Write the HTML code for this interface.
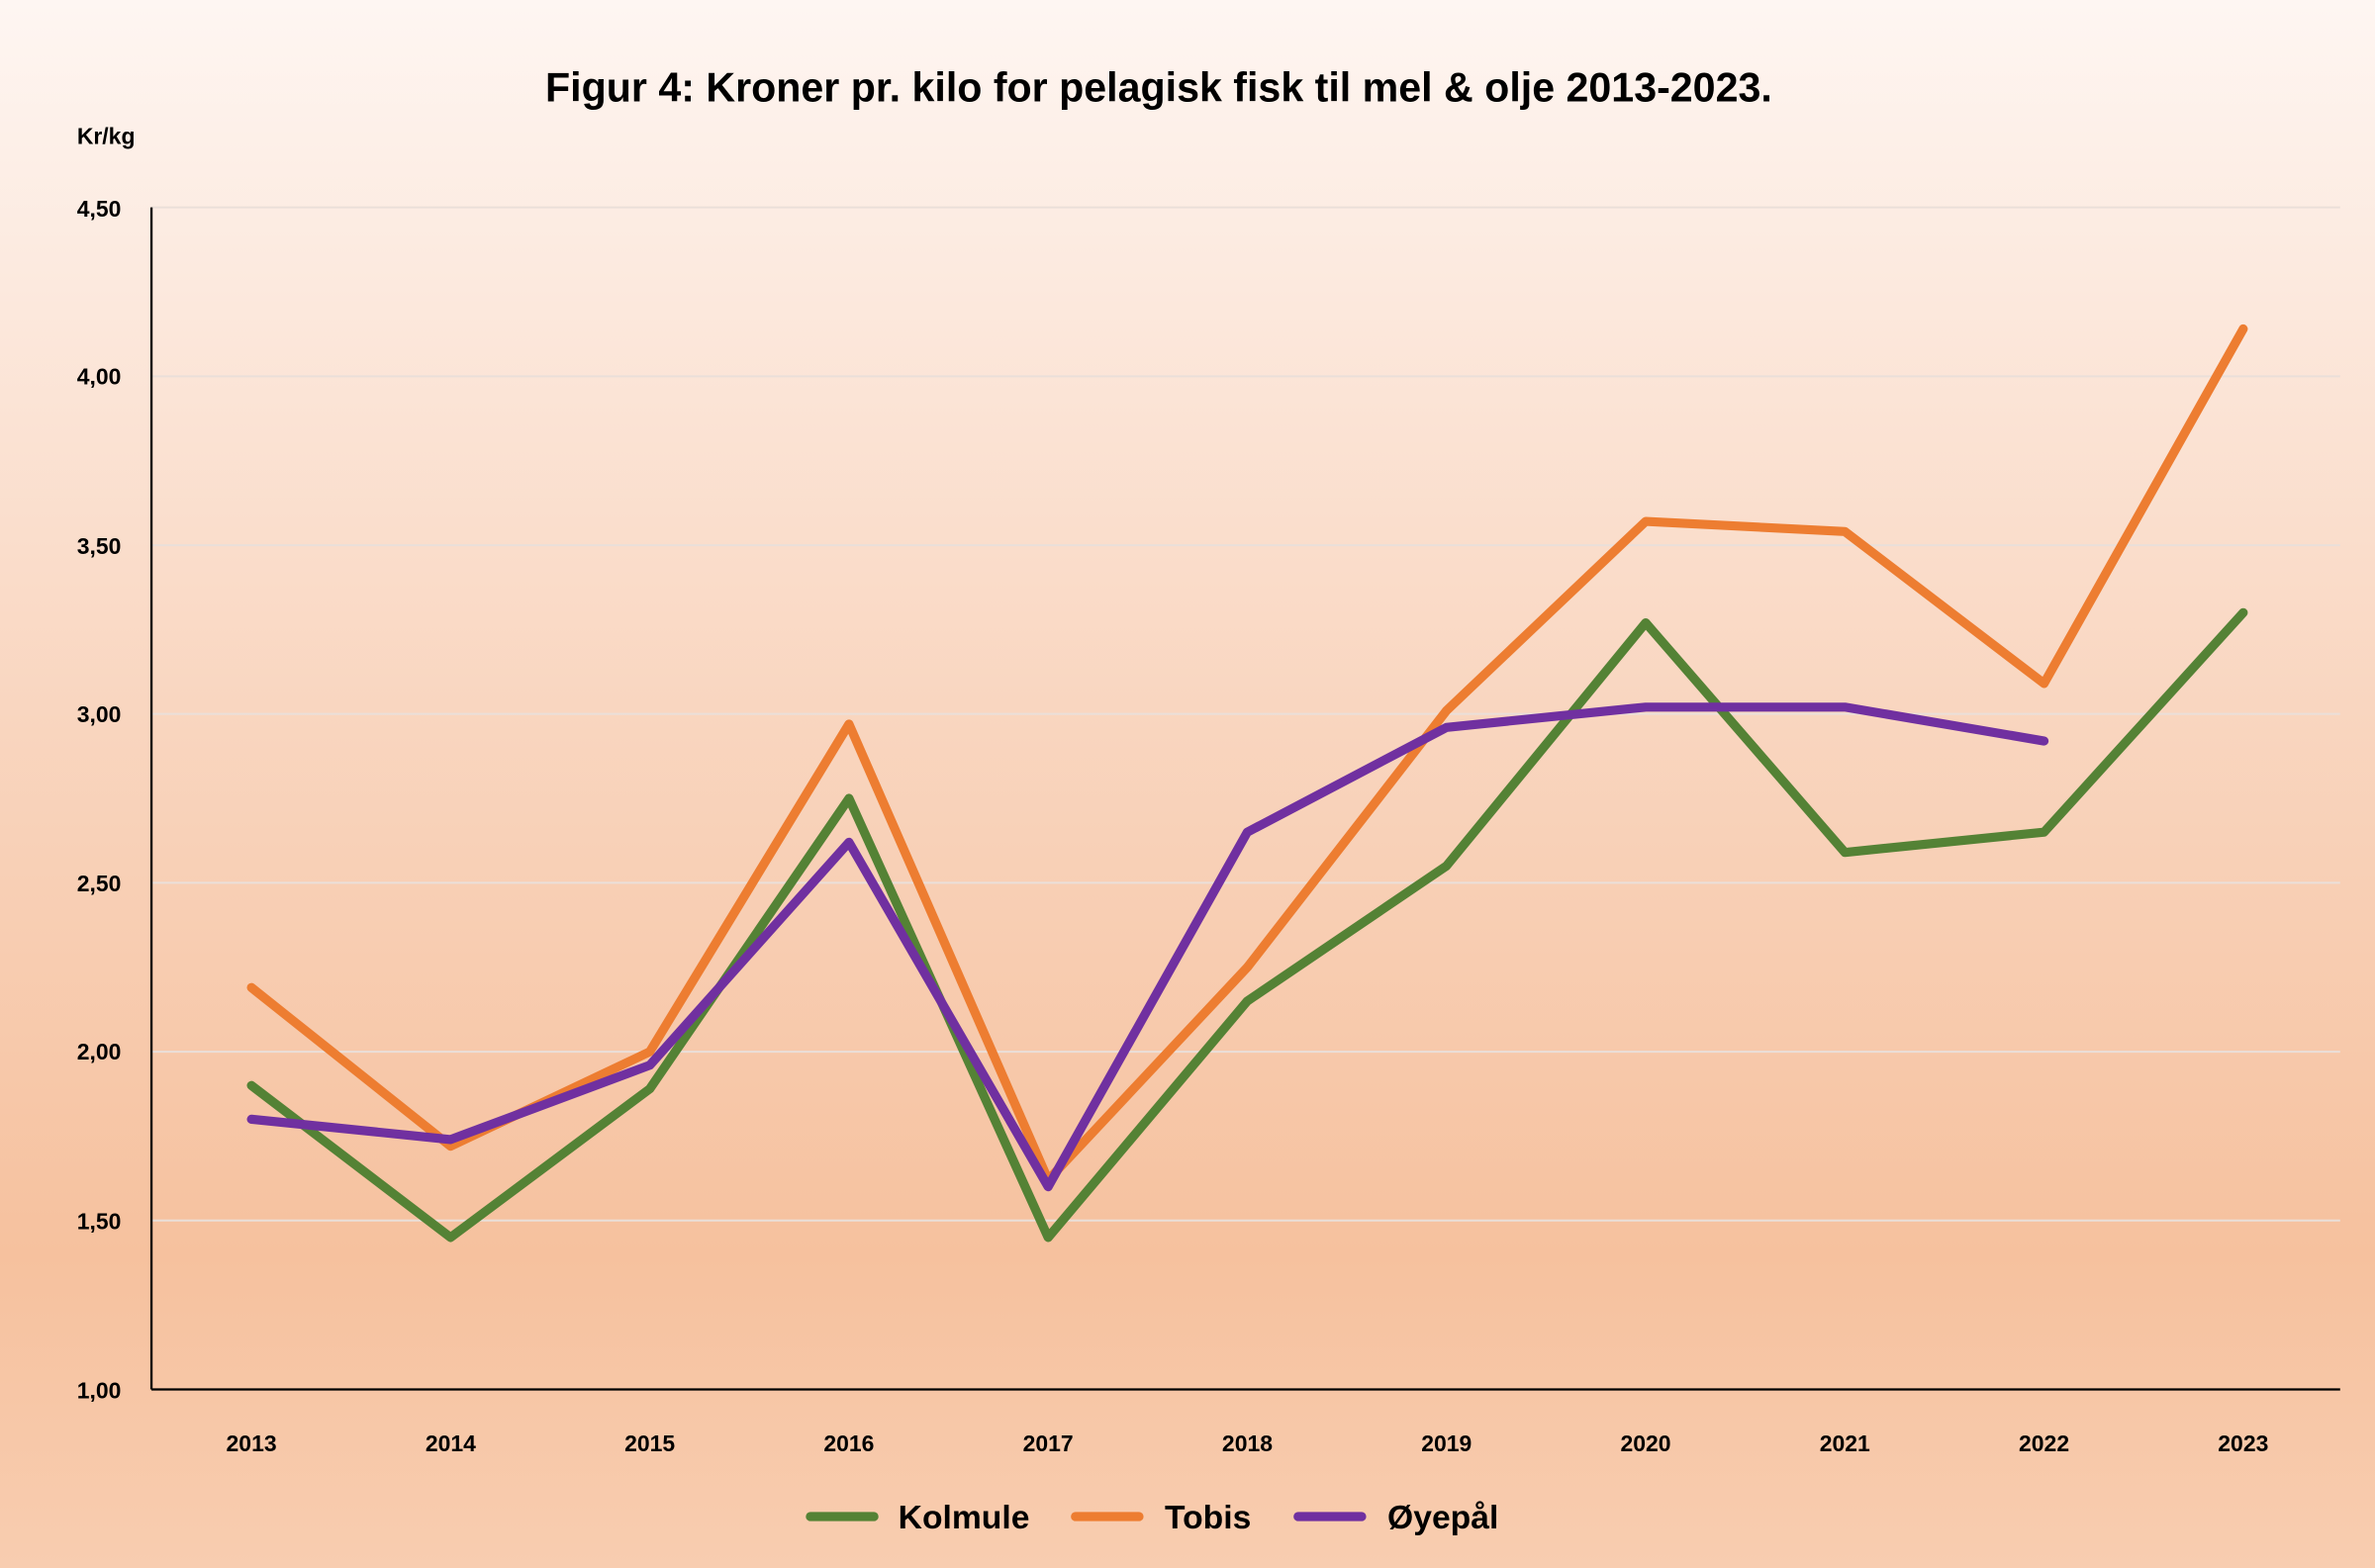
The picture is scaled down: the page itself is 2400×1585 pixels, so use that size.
<!DOCTYPE html>
<html><head><meta charset="utf-8"><style>
html,body{margin:0;padding:0;width:2400px;height:1585px;overflow:hidden}
svg{display:block}
text{font-family:"Liberation Sans",sans-serif;font-weight:bold;fill:#000}
</style></head><body>
<svg width="2400" height="1585" viewBox="0 0 1568 1036" preserveAspectRatio="none">
<defs><linearGradient id="bg" x1="0" y1="0" x2="0" y2="1">
<stop offset="0" stop-color="#fef6f2"/><stop offset="0.45" stop-color="#f9d6c0"/><stop offset="0.8" stop-color="#f6c19e"/><stop offset="1" stop-color="#f8cdb0"/></linearGradient></defs>
<rect width="1568" height="1036" fill="url(#bg)"/>
<text x="765" y="67" font-size="27" text-anchor="middle" textLength="810" lengthAdjust="spacingAndGlyphs">Figur 4: Kroner pr. kilo for pelagisk fisk til mel &amp; olje 2013-2023.</text>
<text x="70" y="95" font-size="15" text-anchor="middle">Kr/kg</text>
<g stroke="#eadfd9" stroke-width="1.3">
<line x1="100" x2="1545" y1="137" y2="137"/><line x1="100" x2="1545" y1="248.6" y2="248.6"/>
<line x1="100" x2="1545" y1="360.2" y2="360.2"/><line x1="100" x2="1545" y1="471.7" y2="471.7"/>
<line x1="100" x2="1545" y1="583.3" y2="583.3"/><line x1="100" x2="1545" y1="694.9" y2="694.9"/>
<line x1="100" x2="1545" y1="806.4" y2="806.4"/></g>
<line x1="100" x2="100" y1="137" y2="918" stroke="#000" stroke-width="1.5"/>
<line x1="100" x2="1545" y1="918" y2="918" stroke="#000" stroke-width="1.5"/>
<g font-size="15" text-anchor="end">
<text x="80" y="143">4,50</text><text x="80" y="254">4,00</text><text x="80" y="366">3,50</text>
<text x="80" y="477">3,00</text><text x="80" y="589">2,50</text><text x="80" y="700">2,00</text>
<text x="80" y="812">1,50</text><text x="80" y="924">1,00</text></g>
<g font-size="15" text-anchor="middle">
<text x="166" y="959">2013</text><text x="297.5" y="959">2014</text><text x="429" y="959">2015</text>
<text x="560.5" y="959">2016</text><text x="692" y="959">2017</text><text x="823.5" y="959">2018</text>
<text x="955" y="959">2019</text><text x="1086.5" y="959">2020</text><text x="1218" y="959">2021</text>
<text x="1349.5" y="959">2022</text><text x="1481" y="959">2023</text></g>
<g fill="none" stroke-width="6" stroke-linejoin="round" stroke-linecap="round">
<polyline stroke="#548235" points="166,717.2 297.5,817.6 429,719.4 560.5,527.5 692,817.6 823.5,661.4 955,572.1 1086.5,411.5 1218,563.2 1349.5,549.8 1481,404.8"/>
<polyline stroke="#ed7d31" points="166,652.5 297.5,757.3 429,694.9 560.5,478.4 692,779.6 823.5,639.1 955,469.5 1086.5,344.5 1218,351.2 1349.5,451.6 1481,217.3"/>
<polyline stroke="#7030a0" points="166,739.5 297.5,752.9 429,703.8 560.5,556.5 692,784.1 823.5,549.8 955,480.6 1086.5,467.2 1218,467.2 1349.5,489.6"/>
</g>
<g stroke-width="6" stroke-linecap="round">
<line x1="535" x2="577" y1="1002" y2="1002" stroke="#548235"/>
<line x1="710" x2="752" y1="1002" y2="1002" stroke="#ed7d31"/>
<line x1="857" x2="899" y1="1002" y2="1002" stroke="#7030a0"/></g>
<g font-size="22"><text x="593" y="1010">Kolmule</text><text x="769" y="1010">Tobis</text><text x="916" y="1010">Øyepål</text></g>
</svg>
</body></html>
